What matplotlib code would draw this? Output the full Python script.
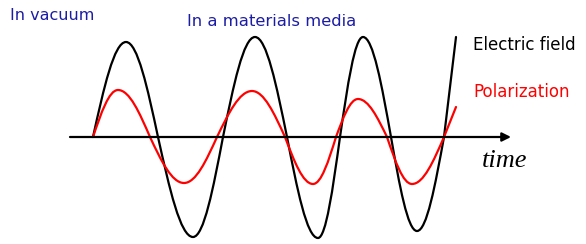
import matplotlib.pyplot as plt
from matplotlib.path import Path
from matplotlib.patches import PathPatch

# anchor points (zero crossings and extremes), y: up from axis
field_x = [93, 126, 158, 193, 223, 255, 287, 318, 340, 363, 391, 417, 444, 456]
field_y = [0, 95, 0, -100, 0, 100, 0, -101, 0, 100, 0, -94, 0, 100]

polar_x = [93, 118, 150, 184, 217, 252, 285, 313, 336, 358, 387, 412, 444, 456]
polar_y = [0, 47, 0, -46, 0, 46, 0, -47, 0, 38, 0, -47, 0, 30]


def wave_path(xs, ys):
    # cubic Bezier quarter-sine pieces between anchors, last piece straight
    verts = [(xs[0], ys[0])]
    codes = [Path.MOVETO]
    for i in range(len(xs) - 2):
        x0, y0, x1, y1 = xs[i], ys[i], xs[i + 1], ys[i + 1]
        L = x1 - x0
        if y0 == 0:
            c1 = (x0 + 0.3261 * L, 0.5123 * y1)
            c2 = (x0 + 0.6381 * L, y1)
        else:
            c1 = (x0 + 0.3619 * L, y0)
            c2 = (x0 + 0.6739 * L, 0.5123 * y0)
        verts += [c1, c2, (x1, y1)]
        codes += [Path.CURVE4] * 3
    verts.append((xs[-1], ys[-1]))
    codes.append(Path.LINETO)
    return Path(verts, codes)


fig = plt.figure(figsize=(5.86, 2.44), dpi=100)
ax = fig.add_axes([0, 0, 1, 1])
ax.set_xlim(0, 586)
ax.set_ylim(-107, 137)
ax.axis('off')

# time axis
ax.annotate('', xy=(511, 0), xytext=(70, 0),
            arrowprops=dict(arrowstyle='-|>', color='black', lw=1.6,
                            mutation_scale=13, shrinkA=0, shrinkB=0))

ax.add_patch(PathPatch(wave_path(field_x, field_y), fill=False,
                       edgecolor='black', lw=1.6, capstyle='round'))
ax.add_patch(PathPatch(wave_path(polar_x, polar_y), fill=False,
                       edgecolor='#ff0000', lw=1.6, capstyle='round'))

blue = '#1c1ca4'
ax.text(10, 122, 'In vacuum', color=blue, fontsize=11.5, va='center', ha='left')
ax.text(187, 115, 'In a materials media', color=blue, fontsize=11.8,
        va='center', ha='left')
ax.text(473, 92, 'Electric field', color='black', fontsize=12,
        va='center', ha='left')
ax.text(473, 45, 'Polarization', color='#ff0000', fontsize=12,
        va='center', ha='left')
ax.text(482, -24, 'time', fontsize=19, family='Liberation Serif',
        style='italic', va='center', ha='left')

fig.savefig('out.png', dpi=100)
